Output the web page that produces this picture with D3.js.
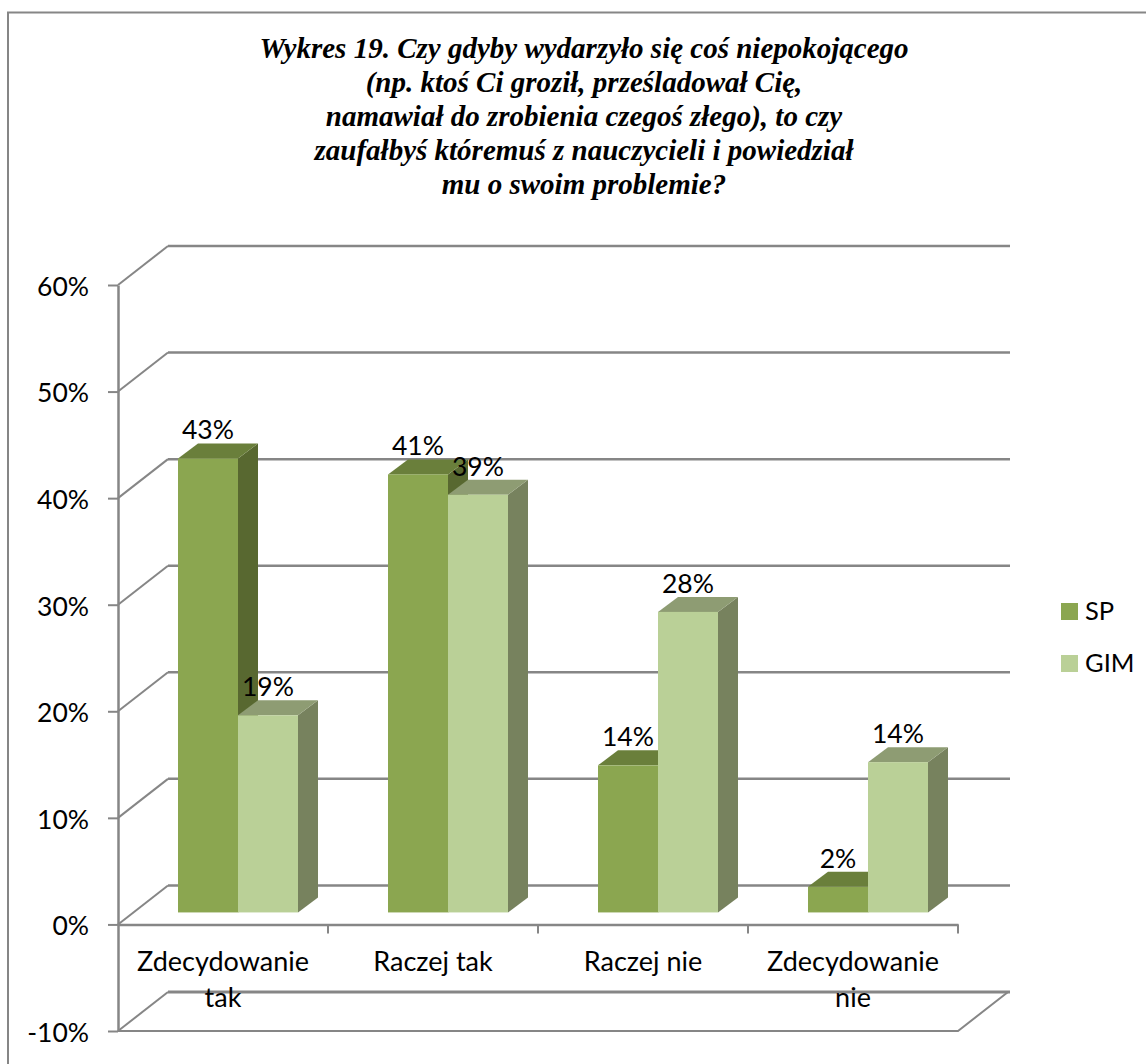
<!DOCTYPE html>
<html>
<head>
<meta charset="utf-8">
<style>
  html, body { margin: 0; padding: 0; background: #fff; }
  svg { display: block; }
  text { font-family: Lato, sans-serif; font-size: 26.5px; fill: #000; }
  .title { font-family: "Liberation Serif", serif; font-size: 29px; font-weight: bold; font-style: italic; text-anchor: middle; }
  .cat { font-size: 27px; }
  .legend text { font-size: 25.5px; }
</style>
</head>
<body>
<div id="chart"></div>
<script src="https://cdn.jsdelivr.net/npm/d3@7"></script>
<script>
const titleLines = [
  'Wykres 19. Czy gdyby wydarzyło się coś niepokojącego',
  '(np. ktoś Ci groził, prześladował Cię,',
  'namawiał do zrobienia czegoś złego), to czy',
  'zaufałbyś któremuś z nauczycieli i powiedział',
  'mu o swoim problemie?'
]
const categories = ['Zdecydowanie tak', 'Raczej tak', 'Raczej nie', 'Zdecydowanie nie']
const seriesNames = ['SP', 'GIM']
const spValues = [42.6, 41.1, 13.8, 2.4]
const gimValues = [18.5, 39.2, 28.2, 14.1]
const spLabels = ['43%', '41%', '14%', '2%']
const gimLabels = ['19%', '39%', '28%', '14%']
const yTicks = [-10, 0, 10, 20, 30, 40, 50, 60]

const gray = '#868686'
const palette = {
  SP: { front: '#8ba650', top: '#6a7f3b', side: '#586830' },
  GIM: { front: '#bad097', top: '#8e9c73', side: '#77825e' }
}

const svg = d3.select('#chart')
  .append('svg')
  .attr('width', 1146)
  .attr('height', 1064)

// Marco del grafico: solo arriba e izquierda, el resto queda fuera de la imagen
svg.append('path')
  .attr('d', 'M8,1064V12.5H1146')
  .attr('fill', 'none')
  .attr('stroke', gray)
  .attr('stroke-width', 2)

svg.selectAll('.title')
  .data(titleLines)
  .join('text')
  .attr('class', 'title')
  .attr('x', 584)
  .attr('y', (d, i) => 58 + i * 34)
  .text(d => d)

// Escalas
const yScale = d3.scaleLinear().domain([-10, 60]).range([1031, 285])
const xScale = d3.scaleBand().domain(categories).range([118, 958])
const xSeries = d3.scaleBand().domain(seriesNames).range([60, 180])

// Profundidad de la pared y de las barras
const wall = { dx: 50, dy: -39 }
const barLift = -12
const barDepth = { dx: 20, dy: -15 }

// Paredes: rejilla de fondo y su diagonal hasta el eje
yTicks.forEach(tick => {
  const y = yScale(tick)
  svg.append('path')
    .attr('d', `M118,${y}L${118 + wall.dx},${y + wall.dy}`)
    .attr('fill', 'none')
    .attr('stroke', gray)
    .attr('stroke-width', 2)
  svg.append('path')
    .attr('d', `M${118 + wall.dx},${y + wall.dy}H1010`)
    .attr('fill', 'none')
    .attr('stroke', gray)
    .attr('stroke-width', tick === -10 ? 3 : 2.5)
})

// Suelo inferior
svg.append('path')
  .attr('d', `M118,${yScale(-10)}H958L1008,${yScale(-10) + wall.dy}`)
  .attr('fill', 'none')
  .attr('stroke', gray)
  .attr('stroke-width', 2)

// Ejes
const yAxis = d3.axisLeft(yScale)
  .tickValues(yTicks)
  .tickFormat(d => d + '%')
  .tickSize(10)
  .tickSizeOuter(0)
  .tickPadding(19)
const yAxisG = svg.append('g')
  .attr('transform', 'translate(118,0)')
  .call(yAxis)
yAxisG.selectAll('text').attr('dy', '0.39em')

const xAxis = d3.axisBottom(xScale).tickSize(0).tickFormat('')
const xAxisG = svg.append('g')
  .attr('transform', `translate(0,${yScale(0)})`)
  .call(xAxis)
xAxisG.selectAll('.tick').remove()

xScale.domain().forEach(cat => {
  const right = xScale(cat) + xScale.bandwidth()
  xAxisG.append('line')
    .attr('x1', right).attr('x2', right)
    .attr('y1', 0).attr('y2', 9)
})

for (const g of [yAxisG, xAxisG]) {
  g.selectAll('path.domain')
    .attr('stroke', gray)
    .attr('stroke-width', 2.5)
  g.selectAll('line')
    .attr('stroke', gray)
    .attr('stroke-width', 2)
  g.attr('font-family', null).attr('font-size', null)
}

// Barras 3D
function drawBar (sel, x, value, colors) {
  const w = xSeries.bandwidth()
  const base = yScale(0) + barLift
  const top = base - (yScale(0) - yScale(value))
  const { dx, dy } = barDepth
  sel.append('path')
    .attr('d', `M${x + w},${top}L${x + w + dx},${top + dy}V${base + dy}L${x + w},${base}Z`)
    .attr('fill', colors.side)
  sel.append('path')
    .attr('d', `M${x},${top}L${x + dx},${top + dy}H${x + w + dx}L${x + w},${top}Z`)
    .attr('fill', colors.top)
  sel.append('rect')
    .attr('x', x)
    .attr('y', top)
    .attr('width', w)
    .attr('height', base - top)
    .attr('fill', colors.front)
}

const barsG = svg.append('g')
const labelsG = svg.append('g')

categories.forEach((cat, i) => {
  const rows = [
    { name: 'SP', value: spValues[i], label: spLabels[i] },
    { name: 'GIM', value: gimValues[i], label: gimLabels[i] }
  ]
  rows.forEach(row => {
    const x = xScale(cat) + xSeries(row.name)
    drawBar(barsG.append('g'), x, row.value, palette[row.name])
    labelsG.append('text')
      .attr('x', x + xSeries.bandwidth() / 2)
      .attr('y', yScale(0) + barLift - (yScale(0) - yScale(row.value)) - 19)
      .attr('text-anchor', 'middle')
      .text(row.label)
  })
})

// Etiquetas de categoria
categories.forEach(cat => {
  const words = cat.startsWith('Zdecydowanie') ? cat.split(' ') : [cat]
  const cx = xScale(cat) + xScale.bandwidth() / 2
  words.forEach((word, i) => {
    svg.append('text')
      .attr('class', 'cat')
      .attr('x', cx)
      .attr('y', 971 + i * 36)
      .attr('text-anchor', 'middle')
      .text(word)
  })
})

// Leyenda
const legend = svg.selectAll('.legend')
  .data(seriesNames)
  .join('g')
  .attr('class', 'legend')
  .attr('transform', (d, i) => `translate(1061,${603 + i * 52})`)
legend.append('rect')
  .attr('width', 17)
  .attr('height', 17)
  .attr('fill', d => palette[d].front)
legend.append('text')
  .attr('x', 24)
  .attr('y', 17)
  .text(d => d)
</script>
</body>
</html>
